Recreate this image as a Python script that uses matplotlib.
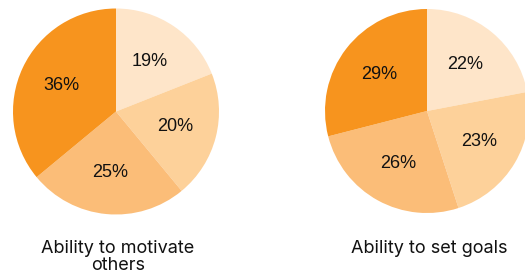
import matplotlib.pyplot as plt

# shares, clockwise from 12 o'clock
motivate = [19, 20, 25, 36]
goals = [22, 23, 26, 29]
titles = ["Ability to motivate\nothers", "Ability to set goals"]
colors = ["#FEE5C9", "#FDD19A", "#FBBD78", "#F7941E"]

plt.rcParams['font.family'] = ['Liberation Sans', 'DejaVu Sans']

W, H = 525, 278
fig = plt.figure(figsize=(W / 100, H / 100), dpi=100, facecolor='white')

# (center x, center y from top, radius) in pixels
boxes = [(116, 111.5, 103), (427, 111, 102)]

for vals, title, (cx, cy, r) in zip([motivate, goals], titles, boxes):
    ax = fig.add_axes([(cx - r) / W, (H - cy - r) / H, 2 * r / W, 2 * r / H])
    wedges, texts, autotexts = ax.pie(
        vals, colors=colors, startangle=90, counterclock=False,
        autopct='%d%%', pctdistance=0.59, radius=1,
        wedgeprops=dict(linewidth=0),
        textprops=dict(fontsize=13, color='#111111'))
    for w in wedges:
        w.set_clip_on(False)
    ax.set_xlim(-1, 1)
    ax.set_ylim(-1, 1)
    ax.set_aspect('equal')
    ax.axis('off')
    fig.text((cx + 2) / W, 1 - 240 / H, title, ha='center', va='top',
             fontsize=13, color='#111111', linespacing=1.03,
             family=['Inter', 'Liberation Sans', 'DejaVu Sans'])

fig.savefig('out.png', dpi=100, facecolor='white')
